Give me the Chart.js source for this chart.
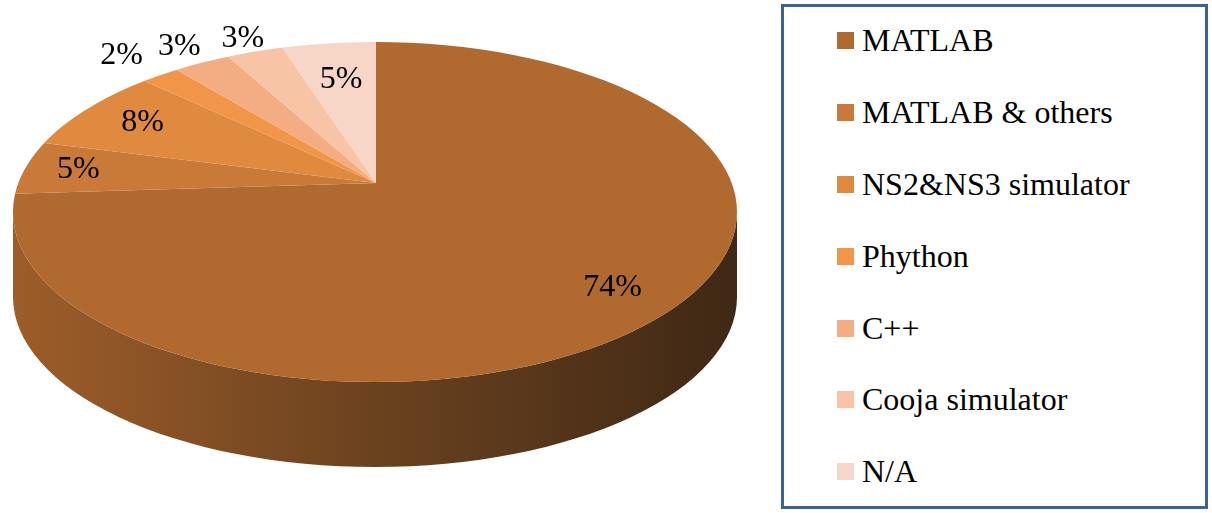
<!DOCTYPE html>
<html>
<head>
<meta charset="utf-8">
<script src="https://cdn.jsdelivr.net/npm/chart.js@4.4.1/dist/chart.umd.min.js"></script>
<style>
    body { margin: 0; background: #fff; }
    #wrap { position: relative; width: 1212px; height: 513px; }
    #toolsChart { position: absolute; left: 0; top: 0; }
    #legend {
        position: absolute; left: 781px; top: 4px; width: 427px; height: 505px;
        box-sizing: border-box; border: 3px solid #3B6195; background: #fff;
    }
    #legend ul { list-style: none; margin: -2px 0 0 0; padding: 0 0 0 53px; }
    #legend li {
        height: 71.8px; display: flex; align-items: center;
        font-family: "Liberation Serif", "Times New Roman", Times, "DejaVu Serif", "Noto Serif", serif;
        font-size: 32px; color: #000; white-space: nowrap;
    }
    #legend li span { width: 17px; height: 17px; margin-right: 8px; flex: none; }
</style>
</head>
<body>
<div id="wrap">
    <canvas id="toolsChart" width="1212" height="513"></canvas>
    <div id="legend"><ul id="legendList"></ul></div>
</div>
<script>
// Données du graphique
const tools = ["MATLAB", "MATLAB & others", "NS2&NS3 simulator", "Phython", "C++", "Cooja simulator", "N/A"];
const shares = [74, 5, 8, 2, 3, 3, 5];
const sliceColors = ["#B06A2F", "#C97A39", "#E08A40", "#F19549", "#F4AD83", "#F7C4A5", "#F8D6C7"];

// Géométrie du disque en perspective (ellipse du dessus par rapport au centre du camembert)
const disk = { dx: -1, dy: 29, rx: 362, ry: 170, depth: 85 };

// Pie "3D": side band + squashed top face clipped to an ellipse
const pie3d = {
    id: "pie3d",
    beforeDatasetsDraw(chart) {
        const ctx = chart.ctx;
        const a = chart.getDatasetMeta(0).data[0];
        const ex = a.x + disk.dx, ey = a.y + disk.dy;

        // side band
        ctx.save();
        ctx.beginPath();
        ctx.ellipse(ex, ey, disk.rx, disk.ry, 0, 0, Math.PI);
        ctx.lineTo(ex - disk.rx, ey + disk.depth);
        ctx.ellipse(ex, ey + disk.depth, disk.rx, disk.ry, 0, Math.PI, 0, true);
        ctx.closePath();
        const g = ctx.createLinearGradient(ex - disk.rx, 0, ex + disk.rx, 0);
        g.addColorStop(0, "#9E5D2A");
        g.addColorStop(0.5, "#6B421F");
        g.addColorStop(1, "#3F2815");
        ctx.fillStyle = g;
        ctx.fill();
        ctx.restore();

        // top face: clip + vertical squash around the pie centre
        ctx.save();
        ctx.beginPath();
        ctx.ellipse(ex, ey, disk.rx, disk.ry, 0, 0, Math.PI * 2);
        ctx.clip();
        ctx.translate(a.x, a.y);
        ctx.scale(1, disk.ry / disk.rx);
        ctx.translate(-a.x, -a.y);
    },
    afterDatasetsDraw(chart, args, opts) {
        const ctx = chart.ctx;
        ctx.restore();

        const meta = chart.getDatasetMeta(0);
        const k = disk.ry / disk.rx;
        ctx.save();
        ctx.font = opts.font;
        ctx.fillStyle = "#000";
        ctx.textAlign = "center";
        ctx.textBaseline = "middle";
        meta.data.forEach((a, i) => {
            const ex = a.x + disk.dx, ey = a.y + disk.dy;
            const mid = (a.startAngle + a.endAngle) / 2;
            const dx = Math.cos(mid), dy = Math.sin(mid) * k;
            // distance jusqu'au bord de l'ellipse
            const ox = (a.x - ex) / disk.rx, oy = (a.y - ey) / disk.ry;
            const ux = dx / disk.rx, uy = dy / disk.ry;
            const A = ux * ux + uy * uy, B = 2 * (ox * ux + oy * uy), C = ox * ox + oy * oy - 1;
            const t = (-B + Math.sqrt(B * B - 4 * A * C)) / (2 * A);
            const f = opts.labelRadius[i];
            ctx.fillText(shares[i] + "%", a.x + dx * t * f, a.y + dy * t * f);
        });
        ctx.restore();
    }
};

const chart = new Chart(document.getElementById("toolsChart"), {
    type: "pie",
    data: {
        labels: tools,
        datasets: [{
            data: shares,
            backgroundColor: sliceColors,
            borderWidth: 0,
            radius: 900,
            clip: false
        }]
    },
    options: {
        responsive: false,
        animation: false,
        events: [],
        layout: { padding: { left: 0, top: 0, right: 460, bottom: 147 } },
        plugins: {
            legend: { display: false },
            tooltip: { enabled: false },
            pie3d: {
                font: '32px "Liberation Serif", "Times New Roman", Times, "DejaVu Serif", serif',
                labelRadius: [0.81, 0.85, 0.81, 1.18, 1.13, 1.10, 0.74]
            }
        }
    },
    plugins: [pie3d]
});

// Légende HTML construite à partir des libellés du graphique
const legendList = document.getElementById("legendList");
chart.options.plugins.legend.labels.generateLabels(chart).forEach(item => {
    const li = document.createElement("li");
    const box = document.createElement("span");
    box.style.background = item.fillStyle;
    li.appendChild(box);
    li.appendChild(document.createTextNode(item.text));
    legendList.appendChild(li);
});
</script>
</body>
</html>
